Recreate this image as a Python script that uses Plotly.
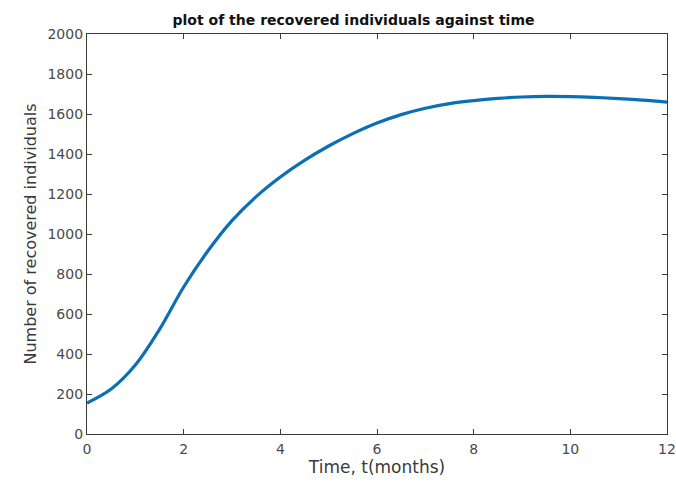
import plotly.graph_objects as go

t_months = [0, 0.5, 1, 1.5, 2, 2.5, 3, 3.5, 4, 4.5, 5, 5.5, 6, 6.5, 7, 7.5, 8, 8.5, 9, 9.5, 10, 10.5, 11, 11.5, 12]
recovered = [155, 225, 345, 523, 735, 915, 1067, 1187, 1285, 1368, 1440, 1502, 1555, 1597, 1629, 1652, 1667, 1678, 1685, 1688, 1687, 1683, 1677, 1669, 1659]

x_ticks = [0, 2, 4, 6, 8, 10, 12]
y_ticks = [0, 200, 400, 600, 800, 1000, 1200, 1400, 1600, 1800, 2000]

FONT = "DejaVu Sans, Liberation Sans, Arial"

fig = go.Figure()
fig.add_trace(go.Scatter(x=t_months, y=recovered, mode="lines",
                         line=dict(color="#0a6fb4", width=3.2, shape="spline", smoothing=1.0),
                         showlegend=False))

axis_common = dict(showline=True, linecolor="#3a3a3a", linewidth=1.2, mirror="ticks",
                   ticks="inside", ticklen=5, tickcolor="#3a3a3a", showgrid=False,
                   zeroline=False, automargin=False,
                   tickfont=dict(family=FONT, size=14, color="#4a4a4a"))

fig.update_layout(
    width=676, height=484,
    paper_bgcolor="white", plot_bgcolor="white",
    margin=dict(l=87, r=9, t=34, b=50),
    title=dict(text="<b>plot of the recovered individuals against time</b>",
               x=353.5 / 676, xref="container", xanchor="center", y=1 - 20/484, yref="container", yanchor="middle",
               font=dict(family=FONT, size=14, color="#111111")),
    xaxis=dict(range=[0, 12], tickvals=x_ticks, ticklabelstandoff=2,
               title=dict(text="Time, t(months)", standoff=4,
                          font=dict(family=FONT, size=17, color="#3a3a3a")), **axis_common),
    yaxis=dict(range=[0, 2000], tickvals=y_ticks,
               title=dict(text="Number of recovered individuals", standoff=6,
                          font=dict(family=FONT, size=16, color="#3a3a3a")), **axis_common),
)

fig.write_html("out.html", config={"displayModeBar": False},
               post_script="document.body.style.margin='0';document.body.style.padding='0';")
